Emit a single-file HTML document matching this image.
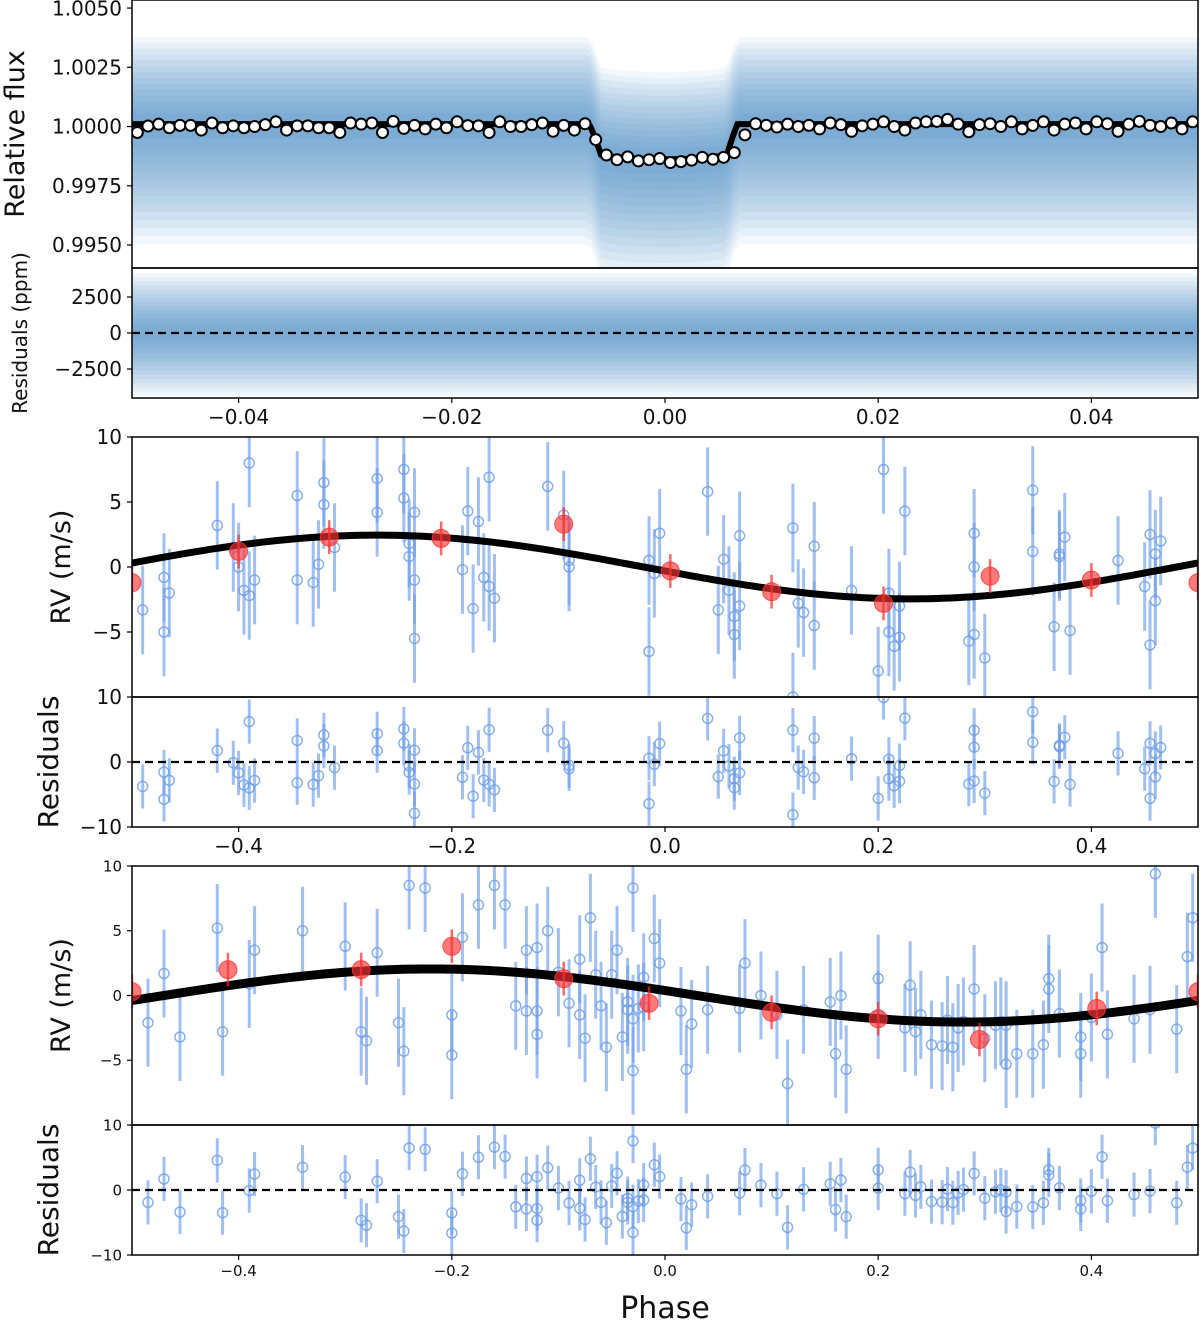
<!DOCTYPE html>
<html><head><meta charset="utf-8"><style>
html,body{margin:0;padding:0;background:#fff}
svg{display:block;font-family:"DejaVu Sans","Liberation Sans",sans-serif}
</style></head><body>
<svg id="fig" width="1200" height="1320" viewBox="0 0 1200 1320">
<defs><clipPath id="c1"><rect x="132" y="0" width="1066" height="268"/></clipPath>
<clipPath id="c2"><rect x="132" y="268" width="1066" height="130"/></clipPath>
<clipPath id="c3"><rect x="132" y="437" width="1066" height="260"/></clipPath>
<clipPath id="c4"><rect x="132" y="697" width="1066" height="130"/></clipPath>
<clipPath id="c5"><rect x="132" y="866" width="1066" height="259"/></clipPath>
<clipPath id="c6"><rect x="132" y="1125" width="1066" height="130"/></clipPath></defs>
</svg>
<script>
// ---------- data ----------
const transitParams = {t1:-0.0071, t2:-0.0060, t3:0.0058, t4:0.0068, depth:0.00148, base:1.0001};
const binFluxLeft = [0.99975,1.00002,1.0001,0.99995,1.00005,1.00005,0.99985,1.00015,0.99995,1.00003,0.99995,1.0,1.00008,1.0002,0.99985,1.00003,1.00003,0.99995,0.99995,0.99975,1.00015,1.0001,1.00015,0.99975,1.00022,0.99992,1.00005,0.9999,1.0001,0.99995,1.0002,1.00004,1.00003,0.99975,1.0002,1.0,1.0,1.00008,1.00015,0.9998,1.00005,0.99985,1.00012];
const binFluxDip = [0.99945,0.9988,0.9986,0.99872,0.99855,0.9986,0.99865,0.99848,0.99852,0.99858,0.9987,0.99862,0.9987,0.9989];
const binFluxRight = [0.99965,1.00012,1.00005,0.99998,1.0001,1.0,1.00005,0.9999,1.00015,1.00008,0.9998,1.00003,1.0001,1.0002,1.0,0.99985,1.00015,1.0002,1.00022,1.0003,1.0001,0.99978,1.00008,1.00012,1.0,1.0002,0.9999,1.00005,1.0002,0.99985,1.0001,1.00015,0.9999,1.0002,1.00012,0.9998,1.0001,1.00022,1.00005,1.0,1.00015,0.9999,1.0002];
const binPhase=[], binFlux=[];
binFluxLeft.forEach((f,i)=>{binPhase.push(-0.0495+i*0.001);binFlux.push(f);});
binFluxDip.forEach((f,i)=>{binPhase.push(-0.0065+i*0.001);binFlux.push(f);});
binFluxRight.forEach((f,i)=>{binPhase.push(0.0075+i*0.001);binFlux.push(f);});

const rv1Phase=[-0.49,-0.47,-0.47,-0.465,-0.42,-0.405,-0.40,-0.395,-0.39,-0.385,-0.39,-0.345,-0.345,-0.32,-0.32,-0.325,-0.33,-0.31,-0.27,-0.27,-0.245,-0.245,-0.24,-0.24,-0.235,-0.235,-0.235,-0.19,-0.185,-0.18,-0.175,-0.17,-0.165,-0.165,-0.16,-0.11,-0.095,-0.09,-0.09,-0.015,-0.015,-0.01,-0.005,0.04,0.05,0.055,0.06,0.065,0.07,0.065,0.07,0.12,0.12,0.125,0.13,0.14,0.14,0.175,0.2,0.205,0.21,0.21,0.215,0.22,0.225,0.22,0.285,0.29,0.29,0.3,0.29,0.345,0.345,0.365,0.37,0.375,0.37,0.38,0.425,0.45,0.455,0.455,0.46,0.465,0.46];
const rv1Val=[-3.3,-0.8,-5.0,-2.0,3.2,1.5,0,-1.8,8.0,-1.0,-2.2,5.5,-1.0,6.5,4.8,0.2,-1.2,1.5,6.8,4.2,7.5,5.3,1.8,0.8,-1.0,4.2,-5.5,-0.2,4.3,-3.2,3.5,-0.8,6.9,-1.5,-2.4,6.2,4.0,0.5,0,-6.5,0.5,-0.5,2.6,5.8,-3.3,0.6,-1.8,-5.2,-3.0,-3.8,2.4,-10,3.0,-2.8,-3.5,1.6,-4.5,-1.8,-8.0,7.5,-2.0,-5.0,-6.1,-5.4,4.3,-3.0,-5.7,2.6,-5.2,-7.0,0,5.9,1.2,-4.6,1.0,2.3,0.8,-4.9,0.5,-1.5,2.5,-6.0,1.0,2.0,-2.6];
const rv1Bin=[-0.5,-0.4,-0.315,-0.21,-0.095,0.005,0.1,0.205,0.305,0.4,0.5];
const rv1BinVal=[-1.2,1.2,2.3,2.2,3.3,-0.3,-1.9,-2.8,-0.7,-1.0,-1.2];
const model1={K:2.45,phi:0.27};

const rv2Phase=[-0.485,-0.47,-0.455,-0.42,-0.415,-0.39,-0.385,-0.34,-0.3,-0.285,-0.28,-0.27,-0.25,-0.245,-0.24,-0.225,-0.2,-0.2,-0.19,-0.175,-0.16,-0.15,-0.14,-0.13,-0.13,-0.12,-0.12,-0.12,-0.11,-0.1,-0.09,-0.08,-0.08,-0.075,-0.07,-0.065,-0.06,-0.055,-0.05,-0.045,-0.04,-0.035,-0.035,-0.03,-0.03,-0.03,-0.025,-0.02,-0.02,-0.01,-0.005,0.015,0.025,0.02,0.04,0.07,0.075,0.09,0.105,0.115,0.13,0.155,0.16,0.165,0.17,0.2,0.2,0.225,0.23,0.235,0.24,0.25,0.26,0.265,0.27,0.275,0.28,0.29,0.3,0.31,0.315,0.32,0.32,0.33,0.345,0.355,0.36,0.36,0.37,0.39,0.39,0.4,0.41,0.415,0.44,0.455,0.46,0.48,0.49,0.495];
const rv2Val=[-2.1,1.7,-3.2,5.2,-2.8,0.9,3.5,5.0,3.8,-2.8,-3.5,3.3,-2.1,-4.3,8.5,8.3,-1.5,-4.6,4.5,7.0,8.5,7.0,-0.8,-1.2,3.5,3.7,-1.2,-3.0,5.0,1.8,-0.6,-1.5,2.8,-3.3,6.0,1.6,-0.8,-4.0,1.6,3.5,-3.2,-0.5,-1.1,-1.8,-5.8,8.3,-1.0,1.4,-0.9,4.4,2.5,-1.2,-2.2,-5.7,-1.1,-1.0,2.5,0,-1.5,-6.8,-1.1,-0.5,-4.5,0,-5.7,1.3,-1.5,-2.5,0.8,-2.8,-1.5,-3.8,-3.9,-1.9,-4.0,-2.5,-2.0,0.5,-3.3,-2.3,-2.0,-5.3,-2.3,-4.5,-4.5,-3.8,0.5,1.3,-1.4,-4.5,-3.2,-1.7,3.7,-3.0,-1.8,-1.1,9.4,-2.6,3.0,6.0];
const rv2Bin=[-0.5,-0.41,-0.285,-0.2,-0.095,-0.015,0.1,0.2,0.295,0.405,0.5];
const rv2BinVal=[0.3,2.0,2.0,3.8,1.3,-0.6,-1.3,-1.8,-3.4,-1.0,0.3];
const model2={K:2.05,phi:0.22};

const fluxTicks=[1.0050,1.0025,1.0000,0.9975,0.9950];
const ppmTicks=[2500,0,-2500];
const phaseTicksT=[-0.04,-0.02,0.00,0.02,0.04];
const rvTicks=[10,5,0,-5];
const resTicks=[10,0,-10];
const phaseTicksRV=[-0.4,-0.2,0.0,0.2,0.4];

// ---------- drawing ----------
const svg=document.getElementById('fig');
const NS='http://www.w3.org/2000/svg';
function el(tag,attrs,parent){const e=document.createElementNS(NS,tag);for(const k in attrs)e.setAttribute(k,attrs[k]);(parent||svg).appendChild(e);return e;}
function scale(d0,d1,r0,r1){return v=>r0+(v-d0)/(d1-d0)*(r1-r0);}
const X0=132,X1=1198;
function transitModel(p){const t=transitParams;
 if(p<=t.t1||p>=t.t4)return t.base;
 const mid=(t.t2+t.t3)/2,half=(t.t3-t.t2)/2;
 let f=1;if(p<t.t2)f=(p-t.t1)/(t.t2-t.t1);else if(p>t.t3)f=(t.t4-p)/(t.t4-t.t3);
 const r=Math.min(1,Math.abs(p-mid)/ (half+0.0006));
 const ld=0.78+0.22*Math.sqrt(Math.max(0,1-r*r));
 return t.base-t.depth*ld*f;}
function rvModel(m,p){return m.K*Math.cos(2*Math.PI*(p+m.phi));}

function axesFrame(y0,y1,name){const r=el('rect',{x:X0,y:y0,width:X1-X0,height:y1-y0,fill:'none',stroke:'#000','stroke-width':1.5});
 }
function yTicks(sy,ticks,fmt,fs,name){const g=el('g',{});
 ticks.forEach(v=>{const y=sy(v);el('line',{x1:X0-5,x2:X0,y1:y,y2:y,stroke:'#000','stroke-width':1.2},g);
 const t=el('text',{x:X0-10,y:y+fs*0.36,'text-anchor':'end','font-size':fs,fill:'#111'},g);t.textContent=fmt(v);});}
function xTicks(sx,ticks,fmt,yb,fs,name){const g=el('g',{});
 ticks.forEach(v=>{const x=sx(v);el('line',{x1:x,x2:x,y1:yb,y2:yb+5,stroke:'#000','stroke-width':1.2},g);
 const t=el('text',{x:x,y:yb+fs+6,'text-anchor':'middle','font-size':fs,fill:'#111'},g);t.textContent=fmt(v).replace('-','\u2212');});}
function label(txt,x,y,fs,rot,name){const t=el('text',{x:x,y:y,'text-anchor':'middle','font-size':fs,fill:'#111',transform:rot?`rotate(-90 ${x} ${y})`:''});t.textContent=txt;
 }
function dashed(sy,y,clip,name){const l=el('line',{x1:X0,x2:X1,y1:sy(y),y2:sy(y),stroke:'#000','stroke-width':2.2,'stroke-dasharray':'8,5','clip-path':clip});
 }

const bandWidths=[];for(let k=0;k<14;k++)bandWidths.push(0.0046-k*0.00031);

// Panel 1: transit
const sxT=scale(-0.05,0.05,X0,X1);
const sy1=scale(0.99403,1.00534,268,0);
const g1=el('g',{'clip-path':'url(#c1)'});
bandWidths.forEach(w=>{let top='',bot='';
 for(let p=-0.05;p<=0.0501;p+=0.0005){top+=`${sxT(p)},${sy1(transitModel(p)+w*0.8)} `;}
 for(let p=0.05;p>=-0.0501;p-=0.0005){bot+=`${sxT(p)},${sy1(transitModel(p)-w*1.1)} `;}
 const pg=el('polygon',{points:top+bot,fill:'#2a7ab8','fill-opacity':0.06},g1);});
let d='';for(let p=-0.05;p<=0.0501;p+=0.0002){d+=(d?'L':'M')+sxT(p)+','+sy1(transitModel(p));}
const tm=el('path',{d:d,fill:'none',stroke:'#000','stroke-width':6},g1);
binFlux.forEach((f,i)=>{const c=el('circle',{cx:sxT(binPhase[i]),cy:sy1(f),r:5.5,fill:'#fff',stroke:'#000','stroke-width':2},g1);
 });
axesFrame(0,268,'transit-axes');
yTicks(sy1,fluxTicks,v=>v.toFixed(4),20,'flux-y-ticks');
label('Relative flux',24,134,27,true,'flux-y-title');

// Panel 2: residuals ppm
const sy2=scale(-4514,4514,398,268);
const g2=el('g',{'clip-path':'url(#c2)'});
bandWidths.forEach(w=>{const wp=w*1e6;const r=el('rect',{x:X0,y:sy2(wp*0.9),width:X1-X0,height:sy2(-wp*0.95)-sy2(wp*0.9),fill:'#2a7ab8','fill-opacity':0.06},g2);
 });
dashed(sy2,0,'url(#c2)','flux-residual-zero');
axesFrame(268,398,'flux-residual-axes');
yTicks(sy2,ppmTicks,v=>String(v).replace('-','\u2212'),20,'ppm-y-ticks');
xTicks(sxT,phaseTicksT,v=>v.toFixed(2),398,20,'transit-x-ticks');
label('Residuals (ppm)',27,333,20,true,'ppm-y-title');

// RV panels
function rvPanel(y0,y1,r0,r1,ph,val,bph,bval,model,clipA,clipB,pre,fsT,lw){
 const sx=scale(-0.5,0.5,X0,X1),sy=scale(-10,10,y1,y0),syr=scale(-10,10,r1,r0);
 const ga=el('g',{'clip-path':clipA});
 const gb=el('g',{'clip-path':clipB});
 const err=3.4;
 ph.forEach((p,i)=>{const v=val[i],res=v-rvModel(model,p);
  [[ga,sy,v],[gb,syr,res]].forEach(([g,s,vv])=>{
   const l=el('line',{x1:sx(p),x2:sx(p),y1:s(vv-err),y2:s(vv+err),stroke:'#6d9eeb','stroke-opacity':0.65,'stroke-width':3},g);
   
   const c=el('circle',{cx:sx(p),cy:s(vv),r:5,fill:'none',stroke:'#6d9eeb','stroke-opacity':0.8,'stroke-width':1.5},g);
   });});
 let dd='';for(let p=-0.5;p<=0.5001;p+=0.005){dd+=(dd?'L':'M')+sx(p)+','+sy(rvModel(model,p));}
 const m=el('path',{d:dd,fill:'none',stroke:'#000','stroke-width':lw},ga);
 bph.forEach((p,i)=>{const v=bval[i];
  const l=el('line',{x1:sx(p),x2:sx(p),y1:sy(v-1.3),y2:sy(v+1.3),stroke:'#ff2a2a','stroke-opacity':0.7,'stroke-width':2.5},ga);
  
  const c=el('circle',{cx:sx(p),cy:sy(v),r:9,fill:'#ff3333','fill-opacity':0.65,stroke:'#ff3333','stroke-opacity':0.8},ga);
  });
 dashed(syr,0,clipB,pre+'-residual-zero');
 axesFrame(y0,y1,pre+'-rv-axes');axesFrame(r0,r1,pre+'-residual-axes');
 yTicks(sy,rvTicks,v=>String(v).replace('-','\u2212'),fsT,pre+'-rv-y-ticks');
 yTicks(syr,resTicks,v=>String(v).replace('-','\u2212'),fsT,pre+'-res-y-ticks');
 xTicks(sx,phaseTicksRV,v=>v.toFixed(1),r1,fsT===20?20:15,pre+'-x-ticks');
 label('RV (m/s)',70,(y0+y1)/2,27,true,pre+'-rv-y-title');
 label('Residuals',58,(r0+r1)/2,28,true,pre+'-res-y-title');
}
rvPanel(437,697,697,827,rv1Phase,rv1Val,rv1Bin,rv1BinVal,model1,'url(#c3)','url(#c4)','inst1',20,7);
rvPanel(866,1125,1125,1255,rv2Phase,rv2Val,rv2Bin,rv2BinVal,model2,'url(#c5)','url(#c6)','inst2',15,9);
label('Phase',665,1318,30,false,'phase-x-title');
</script>
</body></html>
